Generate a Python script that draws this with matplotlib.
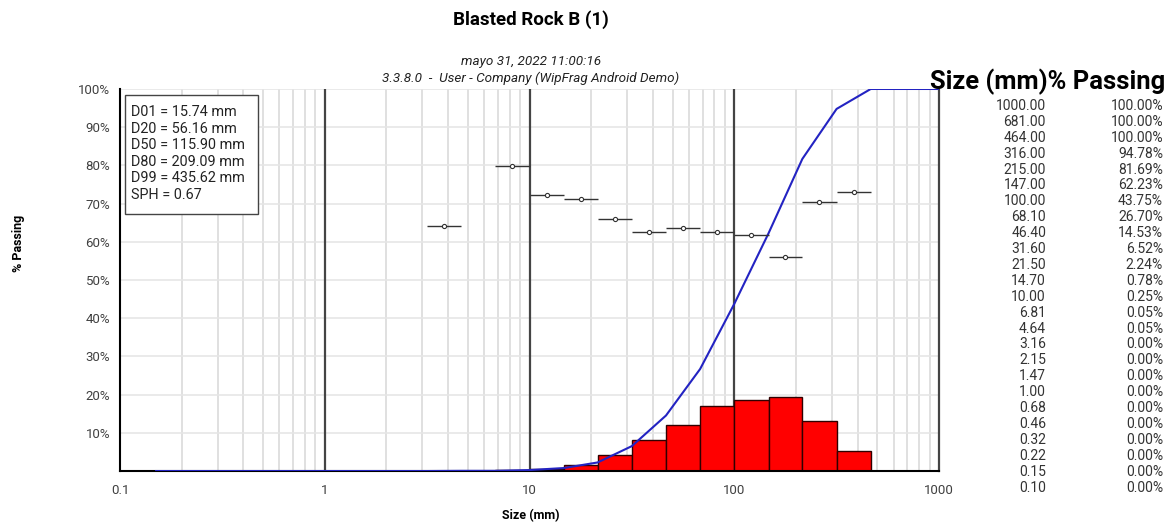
import numpy as np
import matplotlib.pyplot as plt
from matplotlib.patches import Rectangle
from matplotlib.ticker import FixedLocator, NullFormatter

plt.rcParams['font.family'] = ['Roboto', 'DejaVu Sans']

# sieve table (mm, cumulative % passing), coarse to fine
sizes = [1000.00, 681.00, 464.00, 316.00, 215.00, 147.00, 100.00, 68.10,
         46.40, 31.60, 21.50, 14.70, 10.00, 6.81, 4.64, 3.16, 2.15, 1.47,
         1.00, 0.68, 0.46, 0.32, 0.22, 0.15, 0.10]
passing = [100.00, 100.00, 100.00, 94.78, 81.69, 62.23, 43.75, 26.70,
           14.53, 6.52, 2.24, 0.78, 0.25, 0.05, 0.05, 0.00, 0.00, 0.00,
           0.00, 0.00, 0.00, 0.00, 0.00, 0.00, 0.00]

# bin markers with horizontal range (lower, upper edge, value %)
pt_lo = [3.16, 6.81, 10.0, 14.7, 21.5, 31.6, 46.4, 68.1, 100.0, 147.0, 215.0, 316.0]
pt_hi = [4.64, 10.0, 14.7, 21.5, 31.6, 46.4, 68.1, 100.0, 147.0, 215.0, 316.0, 464.0]
pt_val = [64.1, 79.8, 72.2, 71.3, 66.0, 62.6, 63.5, 62.6, 61.9, 56.1, 70.5, 73.1]

stats = ["D01 = 15.74 mm", "D20 = 56.16 mm", "D50 = 115.90 mm",
         "D80 = 209.09 mm", "D99 = 435.62 mm", "SPH = 0.67"]

s = np.array(sizes[::-1])
p = np.array(passing[::-1])

fig = plt.figure(figsize=(11.71, 5.24), dpi=100)
ax = fig.add_axes([0.1025, 0.1011, 0.6994, 0.7291])

ax.set_xscale('log')
ax.set_xlim(0.1, 1000)
ax.set_ylim(0, 100)

# grid: light minors, dark decades
minors = [m * 10.0**e for e in range(-1, 3) for m in range(2, 10)]
for x in minors:
    ax.axvline(x, color='#dadada', lw=1.2, zorder=0)
for x in [1, 10, 100]:
    ax.axvline(x, color='#444444', lw=1.6, zorder=0.5)
for y in range(10, 101, 10):
    ax.axhline(y, color='#e6e6e6', lw=1.2, zorder=0)

# retained % per sieve interval
ret = np.diff(p)
ax.bar(s[:-1], ret, width=np.diff(s), align='edge', color='#ff0000',
       edgecolor='#300000', lw=1.0, zorder=2)

# cumulative passing curve
ax.plot(s[1:], p[1:], color='#2323c2', lw=1.5, zorder=3)

lo = np.array(pt_lo)
hi = np.array(pt_hi)
mid = np.sqrt(lo * hi)
ax.errorbar(mid, pt_val, xerr=[mid - lo, hi - mid], fmt='o', ms=3,
            mfc='white', mec='#333333', mew=0.8, ecolor='#333333',
            elinewidth=1.0, capsize=0, zorder=4)

ax.xaxis.set_major_locator(FixedLocator([0.1, 1, 10, 100, 1000]))
ax.set_xticklabels(['0.1', '1', '10', '100', '1000'])
ax.xaxis.set_minor_formatter(NullFormatter())
ax.set_yticks(range(10, 101, 10))
ax.set_yticklabels(['%d%%' % v for v in range(10, 101, 10)])
ax.tick_params(which='both', length=0, labelsize=9.5, colors='#404040', pad=7)
ax.tick_params(axis='x', pad=9)

for side in ['left', 'bottom']:
    ax.spines[side].set_color('black')
    ax.spines[side].set_linewidth(1.5)
ax.spines['right'].set_color('#444444')
ax.spines['right'].set_linewidth(1.6)
ax.spines['top'].set_visible(False)

fig.text(531 / 1171, 1 - 516 / 524, 'Size (mm)', fontsize=9,
         fontweight='bold', ha='center', va='center')
fig.text(0.016, 0.535, '% Passing', rotation=90, fontsize=9,
         fontweight='bold', ha='center', va='center')

# statistics box
ax.add_patch(Rectangle((0.0061, 0.6728), 0.1624, 0.3112, transform=ax.transAxes,
                       fc='white', ec='#444444', lw=1.0, zorder=5))
ax.text(0.0135, 0.957, '\n'.join(stats), transform=ax.transAxes,
        fontsize=10.4, va='top', ha='left', color='#222222', linespacing=1.22,
        zorder=6)

fig.text(531 / 1171, 0.962, 'Blasted Rock B (1)', fontsize=13.5,
         fontweight='bold', ha='center', va='center')
fig.text(531 / 1171, 0.882, 'mayo 31, 2022 11:00:16', fontsize=9.7,
         style='italic', ha='center', va='center', color='#222222')
fig.text(531 / 1171, 0.851, '3.3.8.0  -  User - Company (WipFrag Android Demo)',
         fontsize=9.7, style='italic', ha='center', va='center', color='#222222')

# size / passing table
fig.text(1047.5 / 1171, 0.843, 'Size (mm)% Passing', fontsize=18.4,
         fontweight='bold', ha='center', va='center')
row0 = 106
step = 15.9
for i, (sz, pc) in enumerate(zip(sizes, passing)):
    yy = 1 - (row0 + i * step) / 524
    fig.text(1046 / 1171, yy, '%.2f' % sz, fontsize=10, ha='right',
             va='center', color='#333333')
    fig.text(1163 / 1171, yy, '%.2f%%' % pc, fontsize=10, ha='right',
             va='center', color='#333333')

fig.savefig('out.png', dpi=100)
